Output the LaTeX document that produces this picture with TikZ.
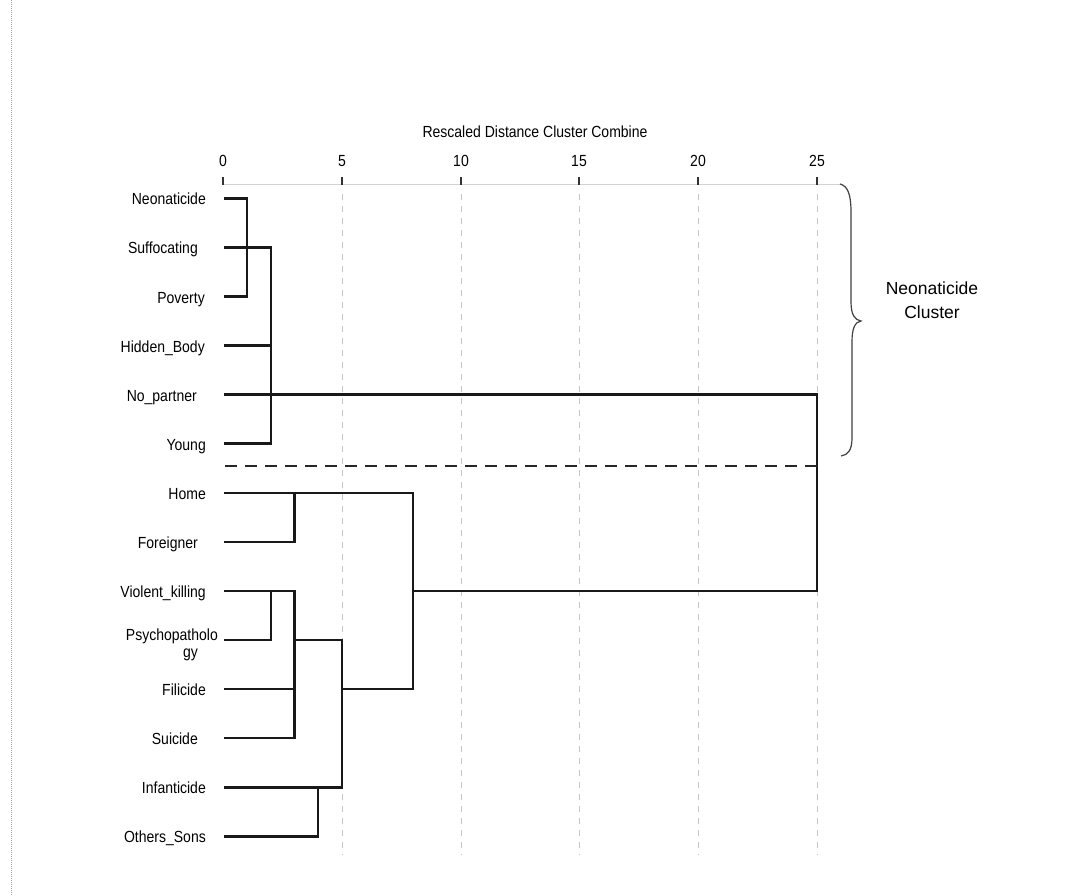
\documentclass[tikz,border=0pt]{standalone}
\usepackage{fontspec}
\setmainfont{Liberation Sans}
\newcommand{\tallt}[1]{\scalebox{1}[1.15]{#1}}
\begin{document}
\begin{tikzpicture}[x=1pt,y=-1pt,
  lab/.style={anchor=base east,inner sep=0pt,font=\fontsize{14}{16}\selectfont},
  tick/.style={anchor=base,inner sep=0pt,font=\fontsize{14}{16}\selectfont},
  dend/.style={line width=2.5pt,line cap=rect,line join=miter,black!90},
  grid/.style={gray!45,line width=1pt,dash pattern=on 6pt off 6pt},
  sep/.style={line width=1.8pt,black!85,dash pattern=on 12pt off 8pt}]
\useasboundingbox (0,0) rectangle (1083,895);
\fill[white] (0,0) rectangle (1083,895);
% left dotted border
\draw[gray!70,line width=1pt,dash pattern=on 1pt off 1pt] (11,0) -- (11,895);
% axis
\node[inner sep=0pt,anchor=base,font=\fontsize{14}{16}\selectfont] (title) at (535,137) {\tallt{Rescaled Distance Cluster Combine}};
\draw[gray!35,line width=1pt] (223,184) -- (840,184);
\foreach \v/\x in {0/223,5/342,10/461,15/579,20/698,25/817}{
  \node[tick] (t\v) at (\x,166) {\tallt{\v}};
  \draw[black!80,line width=2pt] (\x,177) -- (\x,185);
}
\foreach \x in {342,461,579,698,817}{
  \draw[grid] (\x,194) -- (\x,855);
}
% row coordinates
\foreach \i in {0,...,13}{
  \pgfmathsetmacro{\yy}{198.3+49.08*\i}
  \coordinate (l\i) at (225,\yy);
}
% labels
\node[lab] (neo) at (206,204.8) {\tallt{Neonaticide}};
\node[lab] (suf) at (198,253.9) {\tallt{Suffocating}};
\node[lab] (pov) at (205,303.0) {\tallt{Poverty}};
\node[lab] (hid) at (205,352.0) {\tallt{Hidden\_Body}};
\node[lab] (nop) at (197,401.1) {\tallt{No\_partner}};
\node[lab] (you) at (206,450.2) {\tallt{Young}};
\node[lab] (hom) at (206,499.3) {\tallt{Home}};
\node[lab] (fgn) at (198,548.4) {\tallt{Foreigner}};
\node[lab] (vio) at (206,597.5) {\tallt{Violent\_killing}};
\node[lab] (psy) at (218,640.5) {\tallt{Psychopatholo}};
\node[lab] (psg) at (198,657.5) {\tallt{gy}};
\node[lab] (fil) at (206,695.6) {\tallt{Filicide}};
\node[lab] (sui) at (198,744.7) {\tallt{Suicide}};
\node[lab] (inf) at (206,793.8) {\tallt{Infanticide}};
\node[lab] (oth) at (206,842.9) {\tallt{Others\_Sons}};
% merge points
\coordinate (m1) at (247,0);
\coordinate (m2) at (271,0);
\coordinate (m3) at (294.5,0);
\coordinate (m4) at (318,0);
\coordinate (m5) at (342,0);
\coordinate (m8) at (413,0);
\coordinate (m25) at (817,0);
% top cluster
\draw[dend] (l0) -- (l0 -| m1) -- (l2 -| m1) -- (l2);
\draw[dend] (l1) -- (l1 -| m2) -- (l5 -| m2) -- (l5);
\draw[dend] (l3) -- (l3 -| m2);
\draw[dend] (l4) -- (l4 -| m25) -- (l8 -| m25) -- (l8 -| m8);
% bottom cluster
\draw[dend] (l7) -- (l7 -| m3) -- (l6 -| m3);
\draw[dend] (l6) -- (l6 -| m8) -- (l10 -| m8) -- (l10 -| m5);
\draw[dend] (l9) -- (l9 -| m2) -- (l8 -| m2);
\draw[dend] (l8) -- (l8 -| m3) -- (l11 -| m3) -- (l11);
\draw[dend] (l10) -- (l10 -| m3);
\draw[dend] (l9 -| m3) -- (l9 -| m5) -- (l12 -| m5) -- (l12);
\draw[dend] (l13) -- (l13 -| m4) -- (l12 -| m4);
% separator
\coordinate (s1) at (225,466);
\coordinate (s2) at (817,466);
\draw[sep] (s1) -- (s2);
% brace
\draw[black!75,line width=1.2pt] (840,184) .. controls (848,186) and (851,195) .. (851,212) -- (851,302)
  .. controls (851,315) and (855,320) .. (861,321)
  .. controls (855,322) and (852,328) .. (852,342) -- (852,438)
  .. controls (852,450) and (848,455) .. (841,456);
\node[inner sep=0pt,align=center,font=\fontsize{17.5}{24}\selectfont,anchor=base] (clus) at (932,318) {Neonaticide\\Cluster};
\end{tikzpicture}
\end{document}
